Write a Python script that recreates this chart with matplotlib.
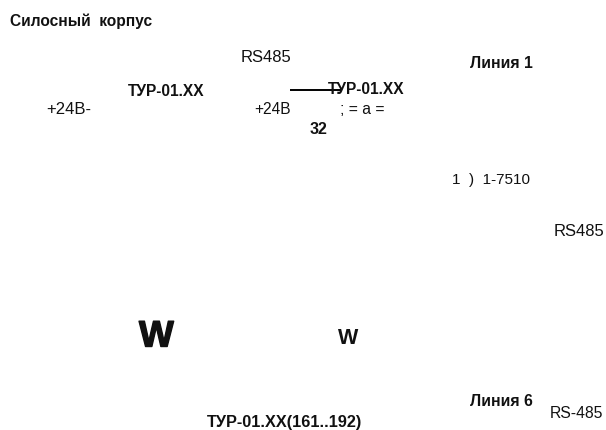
# -*- coding: utf-8 -*-
import matplotlib
matplotlib.use("Agg")
import matplotlib.pyplot as plt
import matplotlib.patheffects as pe

plt.rcParams['font.family'] = ['Liberation Sans', 'DejaVu Sans']

# text labels of the schematic
labels = ["Силосный  корпус", "RS485", "ТУР-01.XX", "+24В-", "+24В", "ТУР-01.XX",
          "; = а =", "32", "Линия 1", "1  )  1-7510", "RS485", "W", "W",
          "Линия 6", "RS-485", "ТУР-01.XX(161..192)"]
label_x = [10, 241, 128, 46, 254, 328, 340, 310, 470, 452, 554, 139, 338, 470, 550, 207]
label_y = [21, 57, 92, 109, 109, 90, 109, 129, 63, 180, 232, 337, 339, 401, 413, 423]
label_size = [11.2, 12, 11.2, 12, 11.2, 11.2, 11.3, 11.5, 11.4, 11, 12, 26.5, 15.5, 11.4, 11.3, 11.7]
label_weight = ["bold", "normal", "bold", "normal", "normal", "bold", "normal", "bold",
                "bold", "normal", "normal", "bold", "bold", "bold", "normal", "bold"]

# the one wire left in the picture
wire_x = [290, 342]
wire_y = [90, 90]

fig = plt.figure(figsize=(6.06, 4.30), dpi=100)
ax = fig.add_axes([0, 0, 1, 1])
ax.set_xlim(0, 606)
ax.set_ylim(430, 0)
ax.axis('off')

ax.plot(wire_x, wire_y, color='black', lw=1.4, solid_capstyle='butt')

for txt, x, y, size, weight in zip(labels, label_x, label_y, label_size, label_weight):
    t = ax.text(x, y, txt, fontsize=size, fontweight=weight, color='#111111',
                ha='left', va='center')
    # the big W is heavier than the bold face
    if size > 20:
        t.set_path_effects([pe.withStroke(linewidth=1.0, foreground='#111111')])

fig.savefig("out.png", dpi=100)
